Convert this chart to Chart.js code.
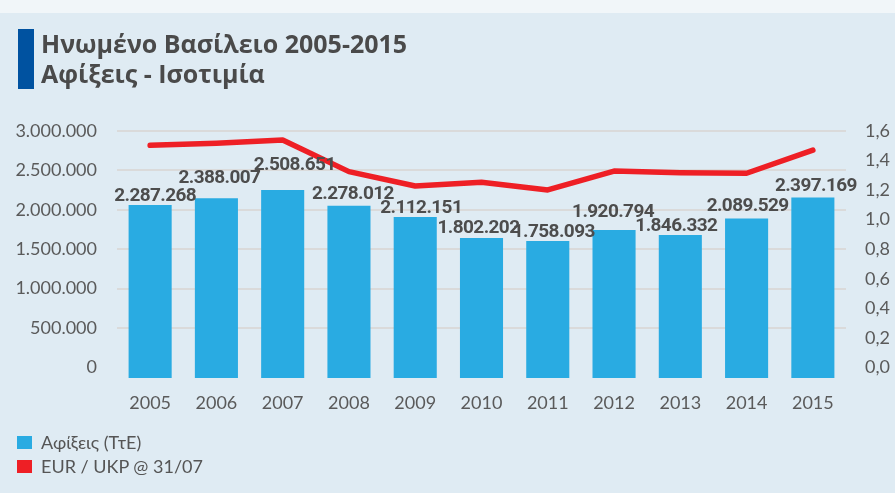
<!DOCTYPE html>
<html>
<head>
<meta charset="utf-8">
<script src="https://cdn.jsdelivr.net/npm/chart.js@4/dist/chart.umd.min.js"></script>
<style>
html,body{margin:0;padding:0;width:895px;height:493px;overflow:hidden;background:#dfebf3;}
#topstrip{position:absolute;left:0;top:0;width:895px;height:13px;background:#f1f6f9;}
#wrap{position:absolute;left:0;top:0;width:895px;height:493px;}
#accent{position:absolute;left:18px;top:29px;width:16px;height:60px;background:#0052a0;}
.title{position:absolute;left:41px;font-family:"Open Sans",sans-serif;font-weight:700;font-size:25px;line-height:30px;color:#4a4a4a;white-space:nowrap;}
.leg{position:absolute;left:17px;height:20px;font-family:Lato,"Open Sans",sans-serif;font-size:18px;line-height:20px;color:#555;white-space:nowrap;}
.leg span.sw{position:absolute;left:0;top:4px;width:15px;height:13px;}
.leg span.tx{position:absolute;left:24px;top:0;}
</style>
</head>
<body>
<div id="topstrip"></div>
<div id="wrap"><canvas id="c" width="895" height="493"></canvas></div>
<div id="accent"></div>
<div class="title" style="top:28px">Ηνωμένο Βασίλειο 2005-2015</div>
<div class="title" style="top:58px">Αφίξεις - Ισοτιμία</div>
<div class="leg" style="top:432px"><span class="sw" style="background:#29abe2"></span><span class="tx">Αφίξεις (ΤτΕ)</span></div>
<div class="leg" style="top:456px"><span class="sw" style="background:#ee1f25"></span><span class="tx">EUR / UKP @ 31/07</span></div>
<script>
// ---- data ----
const years = ['2005','2006','2007','2008','2009','2010','2011','2012','2013','2014','2015'];
const arrivals = [2287268, 2388007, 2508651, 2278012, 2112151, 1802202, 1758093, 1920794, 1846332, 2089529, 2397169];
const eurGbp = [1.503, 1.517, 1.539, 1.325, 1.228, 1.253, 1.201, 1.329, 1.318, 1.314, 1.471];
const leftTicks = [0, 500000, 1000000, 1500000, 2000000, 2500000, 3000000];
const rightTicks = [0, 0.2, 0.4, 0.6, 0.8, 1.0, 1.2, 1.4, 1.6];
const barLabels = ['2.287.268','2.388.007','2.508.651','2.278.012','2.112.151','1.802.202','1.758.093','1.920.794','1.846.332','2.089.529','2.397.169'];

// ---- presentation ----
const BAR_AXIS_MIN = -257548, BAR_AXIS_MAX = 3377551;
const labelNudge = [[5,4],[3,15],[12,20],[4,7],[6,4],[-3,5],[6,4],[-1,13],[-4,4],[1,8],[3,7]];

function dotThousands(v){return String(Math.round(v)).replace(/\B(?=(\d{3})+(?!\d))/g,'.');}

const labelPlugin = {
  id:'barValueLabels',
  afterDatasetsDraw(chart){
    const ctx = chart.ctx;
    const idx = chart.data.datasets.findIndex(d=>d.type==='bar');
    const meta = chart.getDatasetMeta(idx);
    ctx.save();
    ctx.font = 'bold 19px Roboto, sans-serif';
    try { ctx.letterSpacing = '-0.6px'; } catch(e) {}
    ctx.fillStyle = '#4d4d4d';
    ctx.textAlign = 'center';
    ctx.textBaseline = 'alphabetic';
    meta.data.forEach((bar,i)=>{
      const n = labelNudge[i];
      ctx.fillText(barLabels[i], bar.x + n[0], bar.y - n[1]);
    });
    ctx.restore();
  }
};

const tickFont = {family:'Lato', size:18};
new Chart(document.getElementById('c'), {
  data:{
    labels: years,
    datasets:[
      {type:'line', label:'EUR / UKP @ 31/07', data:eurGbp, yAxisID:'y1', borderColor:'#ee1f25', borderWidth:5.5,
       pointRadius:0, tension:0, borderCapStyle:'round', borderJoinStyle:'round', order:0},
      {type:'bar', label:'Αφίξεις (ΤτΕ)', data:arrivals, yAxisID:'yBar', backgroundColor:'#29abe2',
       base:BAR_AXIS_MIN, categoryPercentage:1, barPercentage:0.65, order:1}
    ]
  },
  options:{
    responsive:false, animation:false,
    layout:{padding:{left:0,right:0,top:131,bottom:75}},
    plugins:{legend:{display:false}, tooltip:{enabled:false}},
    scales:{
      x:{type:'category', offset:true, grid:{display:false}, border:{display:false},
         ticks:{font:tickFont, color:'#5a5a5a', padding:6, maxRotation:0},
         afterFit(s){s.height=40;}},
      y:{type:'linear', position:'left', min:-134500, max:3000000,
         afterBuildTicks(s){s.ticks = leftTicks.map(v=>({value:v}));},
         ticks:{font:tickFont, color:'#5a5a5a', padding:20, callback:(v)=>dotThousands(v)},
         grid:{drawTicks:false, lineWidth:2, color:(c)=> (c.tick && c.tick.value===0) ? 'rgba(0,0,0,0)' : '#dadada'},
         border:{display:false},
         afterFit(s){s.width=117;}},
      y1:{type:'linear', position:'right', min:-0.0717, max:1.6,
          afterBuildTicks(s){s.ticks = rightTicks.map(v=>({value:v}));},
          ticks:{font:tickFont, color:'#5a5a5a', padding:19, callback:(v)=>v.toFixed(1).replace('.',',')},
          grid:{display:false, drawTicks:false}, border:{display:false},
          afterFit(s){s.width=49;}},
      yBar:{type:'linear', display:false, min:BAR_AXIS_MIN, max:BAR_AXIS_MAX}
    }
  },
  plugins:[labelPlugin]
});
</script>
</body>
</html>
